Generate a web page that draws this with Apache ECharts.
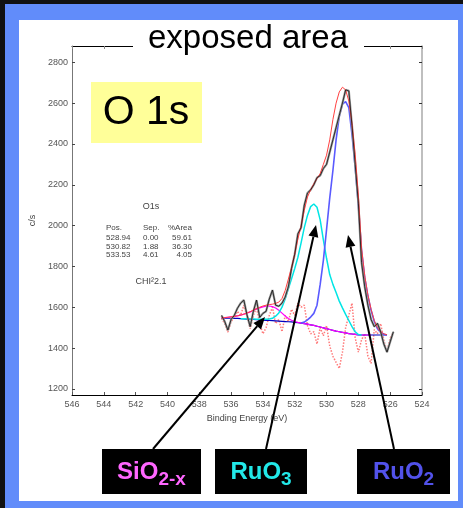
<!DOCTYPE html>
<html>
<head>
<meta charset="utf-8">
<script src="https://cdn.jsdelivr.net/npm/echarts@6/dist/echarts.min.js"></script>
<style>
html,body{margin:0;padding:0;background:#fff;}
#chart{width:463px;height:508px;}
</style>
</head>
<body>
<div id="chart"></div>
<script>
// ---- data (binding energy in eV, counts in c/s) ----
const energy = [
  536.6,536.4,536.2,536.0,535.8,535.6,535.4,535.2,535.0,534.8,
  534.6,534.4,534.2,534.0,533.8,533.6,533.4,533.2,533.0,532.8,
  532.6,532.4,532.2,532.0,531.8,531.6,531.4,531.2,531.0,530.8,
  530.6,530.4,530.2,530.0,529.8,529.6,529.4,529.2,529.0,528.8,
  528.6,528.4,528.2,528.0,527.8,527.6,527.4,527.2,527.0,526.8,
  526.6,526.4,526.2,526.0,525.8
];
const rawCounts = [
  1560,1530,1488,1540,1560,1595,1620,1635,1562,1505,
  1580,1635,1550,1570,1580,1640,1684,1610,1605,1620,
  1650,1700,1790,1860,1960,1990,2100,2160,2175,2200,
  2235,2245,2280,2300,2360,2420,2480,2540,2600,2665,
  2660,2490,2300,2110,1820,1700,1610,1540,1505,1521,
  1480,1420,1380,1430,1480
];
const fitEnvelope = [
  1548,1549,1551,1553,1555,1558,1561,1566,1572,1578,
  1586,1593,1600,1606,1610,1613,1615,1619,1625,1643,
  1682,1738,1795,1860,1935,2000,2075,2140,2175,2205,
  2230,2255,2300,2345,2420,2520,2600,2655,2678,2665,
  2610,2500,2350,2150,1890,1755,1660,1590,1535,1500,
  1480,1470,1465,null,null
];
const background = [
  1547,1547,1546,1546,1545,1545,1544,1543,1542,1541,
  1540,1539,1538,1537,1536,1535,1534,1533,1532,1531,
  1530,1529,1528,1526,1524,1522,1520,1517,1514,1511,
  1507,1503,1499,1495,1491,1487,1483,1480,1477,1474,
  1471,1469,1467,1465,1464,1464,1464,1464,1464,1464,
  1464,1464,1464,null,null
];
const sio2Peak = [
  1548,1549,1551,1553,1555,1558,1561,1566,1571,1577,
  1584,1591,1597,1602,1605,1606,1603,1596,1585,1571,
  1557,1545,1536,1530,1526,1523,1520,1517,1514,1511,
  1507,1503,1499,1495,1491,1487,1483,1480,1477,1474,
  1471,1469,1467,1465,1464,1464,1464,1464,null,null,
  null,null,null,null,null
];
const ruo3Peak = [
  null,null,null,null,null,null,1544,1543,1543,1542,
  1542,1541,1541,1541,1541,1542,1546,1556,1572,1600,
  1640,1690,1740,1790,1845,1915,1990,2050,2093,2106,
  2090,2028,1930,1840,1760,1712,1672,1630,1597,1565,
  1535,1505,1480,1466,1464,null,null,null,null,null,
  null,null,null,null,null
];
const ruo2Peak = [
  null,null,null,null,null,null,null,null,null,null,
  null,null,null,null,null,null,null,null,null,null,
  null,null,null,null,null,1523,1527,1538,1552,1570,
  1610,1712,1830,1980,2135,2270,2420,2535,2595,2607,
  2578,2445,2285,2100,1880,1745,1655,1585,1530,1495,
  1478,1468,1464,null,null
];
const residual = [
  1546,1520,1478,1530,1548,1580,1560,1610,1555,1495,
  1560,1600,1520,1470,1500,1560,1600,1520,1540,1480,
  1560,1530,1590,1560,1620,1600,1610,1510,1470,1480,
  1420,1500,1460,1510,1410,1360,1330,1300,1380,1500,
  1560,1620,1450,1380,1440,1470,1360,1325,1490,1470,
  1520,1440,1382,1450,1475
];
const yTickValues = [1200,1400,1600,1800,2000,2200,2400,2600,2800];
const fitTable = [
  ['Pos.', 'Sep.', '%Area'],
  ['528.94', '0.00', '59.61'],
  ['530.82', '1.88', '36.30'],
  ['533.53', '4.61', '4.05']
];

function pairs(arr) {
  const out = [];
  for (let i = 0; i < energy.length; i++) {
    if (arr[i] !== null) out.push([energy[i], arr[i]]);
  }
  return out;
}

const FONT = '"Liberation Sans", Arial, sans-serif';
const chart = echarts.init(document.getElementById('chart'), null, {renderer: 'canvas'});
const measureCtx = document.createElement('canvas').getContext('2d');
function textWidth(text, font) {
  measureCtx.font = font;
  return measureCtx.measureText(text).width;
}

function lineSeries(name, arr, color, width, type, z) {
  return {
    name: name, type: 'line', data: pairs(arr), showSymbol: false, symbol: 'none',
    lineStyle: {color: color, width: width, type: type || 'solid'},
    z: z, silent: true, animation: false
  };
}

function arrow(x1, y1, x2, y2) {
  const dx = x2 - x1, dy = y2 - y1;
  const len = Math.sqrt(dx * dx + dy * dy);
  const ux = dx / len, uy = dy / len;
  const hl = 12, hw = 5;
  const bx = x2 - ux * hl, by = y2 - uy * hl;
  const px = -uy, py = ux;
  return [
    {type: 'line', z: 50, shape: {x1: x1, y1: y1, x2: bx, y2: by},
     style: {stroke: '#000', lineWidth: 2}},
    {type: 'polygon', z: 50, shape: {points: [[x2, y2], [bx + px * hw, by + py * hw], [bx - px * hw, by - py * hw]]},
     style: {fill: '#000'}}
  ];
}

const graphics = [
  // frame
  {type: 'rect', shape: {x: 0, y: 0, width: 463, height: 20}, style: {fill: '#618cfa'}, z: 1},
  {type: 'rect', shape: {x: 0, y: 0, width: 19, height: 508}, style: {fill: '#618cfa'}, z: 1},
  {type: 'rect', shape: {x: 458, y: 0, width: 5, height: 508}, style: {fill: '#618cfa'}, z: 1},
  {type: 'rect', shape: {x: 0, y: 501, width: 463, height: 7}, style: {fill: '#618cfa'}, z: 1},
  {type: 'rect', shape: {x: 0, y: 0, width: 463, height: 4}, style: {fill: '#111'}, z: 2},
  {type: 'rect', shape: {x: 0, y: 0, width: 5, height: 508}, style: {fill: '#111'}, z: 2},
  // title
  {type: 'rect', shape: {x: 133, y: 26, width: 231, height: 28}, style: {fill: '#fff'}, z: 40},
  {type: 'text', x: 248, y: 39, z: 41, style: {text: 'exposed area', font: '33px ' + FONT, fill: '#000', align: 'center', verticalAlign: 'middle'}},
  // O 1s box
  {type: 'rect', shape: {x: 91, y: 82, width: 111, height: 61}, style: {fill: '#ffff99'}, z: 10},
  {type: 'text', x: 146, y: 113, z: 11, style: {text: 'O 1s', font: '41px ' + FONT, fill: '#000', align: 'center', verticalAlign: 'middle'}},
  // fit annotations
  {type: 'text', x: 151, y: 207, z: 11, style: {text: 'O1s', font: '9px ' + FONT, fill: '#444', align: 'center', verticalAlign: 'middle'}},
  {type: 'text', x: 151, y: 282, z: 11, style: {text: 'CHI\u00b22.1', font: '9px ' + FONT, fill: '#444', align: 'center', verticalAlign: 'middle'}}
];
const rowY = [228, 237.5, 246.5, 255];
fitTable.forEach(function (row, i) {
  graphics.push({type: 'text', x: 106, y: rowY[i], z: 11, style: {text: row[0], font: '8px ' + FONT, fill: '#444', align: 'left', verticalAlign: 'middle'}});
  graphics.push({type: 'text', x: 143, y: rowY[i], z: 11, style: {text: row[1], font: '8px ' + FONT, fill: '#444', align: 'left', verticalAlign: 'middle'}});
  graphics.push({type: 'text', x: 192, y: rowY[i], z: 11, style: {text: row[2], font: '8px ' + FONT, fill: '#444', align: 'right', verticalAlign: 'middle'}});
});
// label boxes
const MAIN_FONT = 'bold 24px ' + FONT;
const SUB_FONT = 'bold 19px ' + FONT;
function labelBox(x, w, main, sub, color) {
  const mw = textWidth(main, MAIN_FONT), sw = textWidth(sub, SUB_FONT);
  const startX = x + (w - mw - sw) / 2;
  graphics.push({type: 'rect', z: 30, shape: {x: x, y: 449, width: w, height: 45}, style: {fill: '#000'}});
  graphics.push({type: 'text', z: 31, x: startX, y: 472, style: {text: main, font: MAIN_FONT, fill: color, align: 'left', verticalAlign: 'middle'}});
  graphics.push({type: 'text', z: 31, x: startX + mw, y: 480, style: {text: sub, font: SUB_FONT, fill: color, align: 'left', verticalAlign: 'middle'}});
}
labelBox(102, 99, 'SiO', '2-x', '#ff66ff');
labelBox(215, 92, 'RuO', '3', '#22e8e8');
labelBox(357, 93, 'RuO', '2', '#5252ea');

Array.prototype.push.apply(graphics, arrow(153, 449, 265, 317));
Array.prototype.push.apply(graphics, arrow(266, 449, 316, 225));
Array.prototype.push.apply(graphics, arrow(394, 449, 348, 235));

const axisFont = {fontFamily: FONT, fontSize: 9, color: '#555'};

const option = {
  backgroundColor: '#ffffff',
  animation: false,
  grid: {left: 72, top: 46, width: 350, height: 349, containLabel: false},
  xAxis: [
    {
      type: 'value', position: 'bottom', min: 524, max: 546, interval: 2, inverse: true,
      axisLine: {show: true, lineStyle: {color: '#000', width: 1}},
      axisTick: {show: true, inside: true, length: 3, lineStyle: {color: '#555'}},
      axisLabel: Object.assign({margin: 5, formatter: function (v) { return String(v); }}, axisFont),
      splitLine: {show: false},
      name: 'Binding Energy (eV)', nameLocation: 'middle', nameGap: 17,
      nameTextStyle: {fontFamily: FONT, fontSize: 9, color: '#444'}
    },
    {
      type: 'value', position: 'top', min: 524, max: 546, interval: 2, inverse: true,
      axisLine: {show: true, lineStyle: {color: '#000', width: 1}},
      axisTick: {show: true, inside: true, length: 3, lineStyle: {color: '#888'}},
      axisLabel: {show: false}, splitLine: {show: false}
    }
  ],
  yAxis: [
    {
      type: 'value', position: 'left', min: 1170, max: 2880,
      axisLine: {show: true, lineStyle: {color: '#777', width: 1}},
      axisTick: {show: true, inside: true, length: 3, customValues: yTickValues, lineStyle: {color: '#444'}},
      axisLabel: Object.assign({margin: 4, customValues: yTickValues, formatter: function (v) { return String(v); }}, axisFont),
      splitLine: {show: false},
      name: 'c/s', nameLocation: 'middle', nameGap: 32, nameRotate: 90,
      nameTextStyle: {fontFamily: FONT, fontSize: 9, color: '#444'}
    },
    {
      type: 'value', position: 'right', min: 1170, max: 2880,
      axisLine: {show: true, lineStyle: {color: '#aaa', width: 1.5}},
      axisTick: {show: true, inside: true, length: 3, customValues: yTickValues, lineStyle: {color: '#333'}},
      axisLabel: {show: false}, splitLine: {show: false}
    }
  ],
  series: [
    lineSeries('residual', residual, '#ff7a7a', 1.5, 'dotted', 2),
    lineSeries('background', background, '#0000c0', 1.2, 'solid', 3),
    lineSeries('SiO2-x', sio2Peak, '#ff00ff', 1.2, 'solid', 4),
    lineSeries('RuO3', ruo3Peak, '#00e5e5', 1.5, 'solid', 5),
    lineSeries('RuO2', ruo2Peak, '#5a5aff', 1.6, 'solid', 6),
    lineSeries('raw-gray', rawCounts, '#9a9a9a', 2.2, 'solid', 7),
    lineSeries('envelope', fitEnvelope, '#ff4040', 1, 'solid', 8),
    lineSeries('raw', rawCounts, '#111', 0.8, 'solid', 9)
  ],
  graphic: {elements: graphics}
};
chart.setOption(option);
</script>
</body>
</html>
